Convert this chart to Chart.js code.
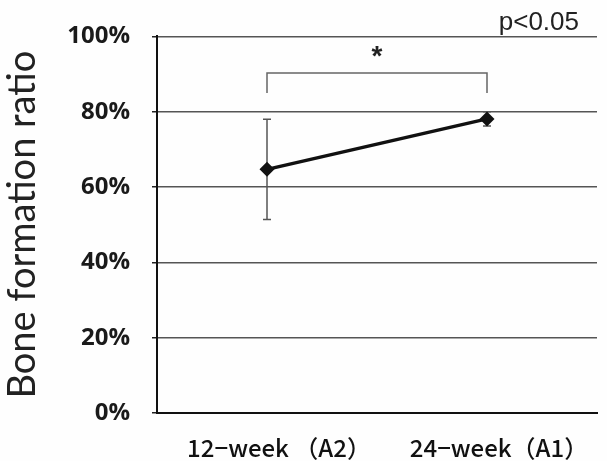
<!DOCTYPE html>
<html>
<head>
<meta charset="utf-8">
<script src="https://cdn.jsdelivr.net/npm/chart.js@4.4.0/dist/chart.umd.min.js"></script>
<style>
  html, body { margin: 0; padding: 0; background: #fefefe; }
  #wrap { position: relative; width: 607px; height: 461px; }
</style>
</head>
<body>
<div id="wrap"><canvas id="chart" width="607" height="461"></canvas></div>
<script>
// data
const categories = ['12\u2212week \uFF08A2\uFF09', '24\u2212week\uFF08A1\uFF09'];
const means = [64.7, 78.1];
const errors = [13.3, 1.9];
const yMin = 0;
const yMax = 100;
const yStep = 20;

// significance bracket
const bracketFrom = 0;
const bracketTo = 1;
const bracketTop = 90.3;
const bracketFoot = 85;
const bracketLabel = '*';
const noteText = 'p<0.05';

// error bars, drawn behind the line
const errorBarPlugin = {
  id: 'errorBars',
  beforeDatasetsDraw(chart) {
    const ctx = chart.ctx;
    const x = chart.scales.x;
    const y = chart.scales.y;
    ctx.save();
    ctx.strokeStyle = '#555';
    ctx.lineWidth = 1.5;
    means.forEach((m, i) => {
      const px = x.getPixelForValue(i);
      const top = y.getPixelForValue(m + errors[i]);
      const bot = y.getPixelForValue(m - errors[i]);
      ctx.beginPath();
      ctx.moveTo(px, top);
      ctx.lineTo(px, bot);
      ctx.moveTo(px - 4, top);
      ctx.lineTo(px + 4, top);
      ctx.moveTo(px - 4, bot);
      ctx.lineTo(px + 4, bot);
      ctx.stroke();
    });
    ctx.restore();
  }
};

// bracket, star and p value
const bracketPlugin = {
  id: 'bracket',
  afterDatasetsDraw(chart) {
    const ctx = chart.ctx;
    const x = chart.scales.x;
    const y = chart.scales.y;
    const x1 = x.getPixelForValue(bracketFrom);
    const x2 = x.getPixelForValue(bracketTo);
    const yt = y.getPixelForValue(bracketTop);
    const yf = y.getPixelForValue(bracketFoot);
    ctx.save();
    ctx.strokeStyle = '#666';
    ctx.lineWidth = 1.5;
    ctx.beginPath();
    ctx.moveTo(x1, yf);
    ctx.lineTo(x1, yt);
    ctx.lineTo(x2, yt);
    ctx.lineTo(x2, yf);
    ctx.stroke();
    ctx.fillStyle = '#222';
    ctx.font = 'bold 28px "Liberation Sans"';
    ctx.textAlign = 'center';
    ctx.textBaseline = 'bottom';
    ctx.fillText(bracketLabel, (x1 + x2) / 2, yt - 2);
    ctx.font = '26px "Liberation Sans"';
    ctx.textAlign = 'right';
    ctx.textBaseline = 'bottom';
    ctx.fillText(noteText, chart.chartArea.right - 18, chart.chartArea.top - 1);
    ctx.restore();
  }
};

const ctx = document.getElementById('chart').getContext('2d');
new Chart(ctx, {
  type: 'line',
  data: {
    labels: categories,
    datasets: [{
      data: means,
      borderColor: '#111',
      backgroundColor: '#111',
      borderWidth: 3.5,
      pointStyle: 'rectRot',
      pointRadius: 7.5,
      pointBorderWidth: 0,
      tension: 0
    }]
  },
  options: {
    responsive: false,
    animation: false,
    layout: { padding: { left: 0, top: 35, right: 10, bottom: 0 } },
    plugins: {
      legend: { display: false },
      tooltip: { enabled: false }
    },
    scales: {
      x: {
        offset: true,
        grid: { display: false },
        border: { display: true, color: '#111', width: 2 },
        ticks: {
          color: '#111',
          padding: 12,
          labelOffset: 12,
          font: { family: '"Noto Sans CJK JP"', size: 24, weight: 500 }
        },
        afterFit(scale) { scale.height = 48; }
      },
      y: {
        min: yMin,
        max: yMax,
        grid: { color: '#555', lineWidth: 1.5, tickLength: 5, tickColor: '#222' },
        border: { display: true, color: '#111', width: 2 },
        ticks: {
          stepSize: yStep,
          color: '#1a1a1a',
          padding: 22,
          font: { family: '"Open Sans"', size: 24, weight: 'bold' },
          callback: v => v + '%'
        },
        title: {
          display: true,
          text: 'Bone formation ratio',
          color: '#222',
          padding: { top: 0, bottom: 0 },
          font: { family: 'Lato', size: 38 }
        },
        afterFit(scale) { scale.width = 157; }
      }
    }
  },
  plugins: [errorBarPlugin, bracketPlugin]
});
</script>
</body>
</html>
